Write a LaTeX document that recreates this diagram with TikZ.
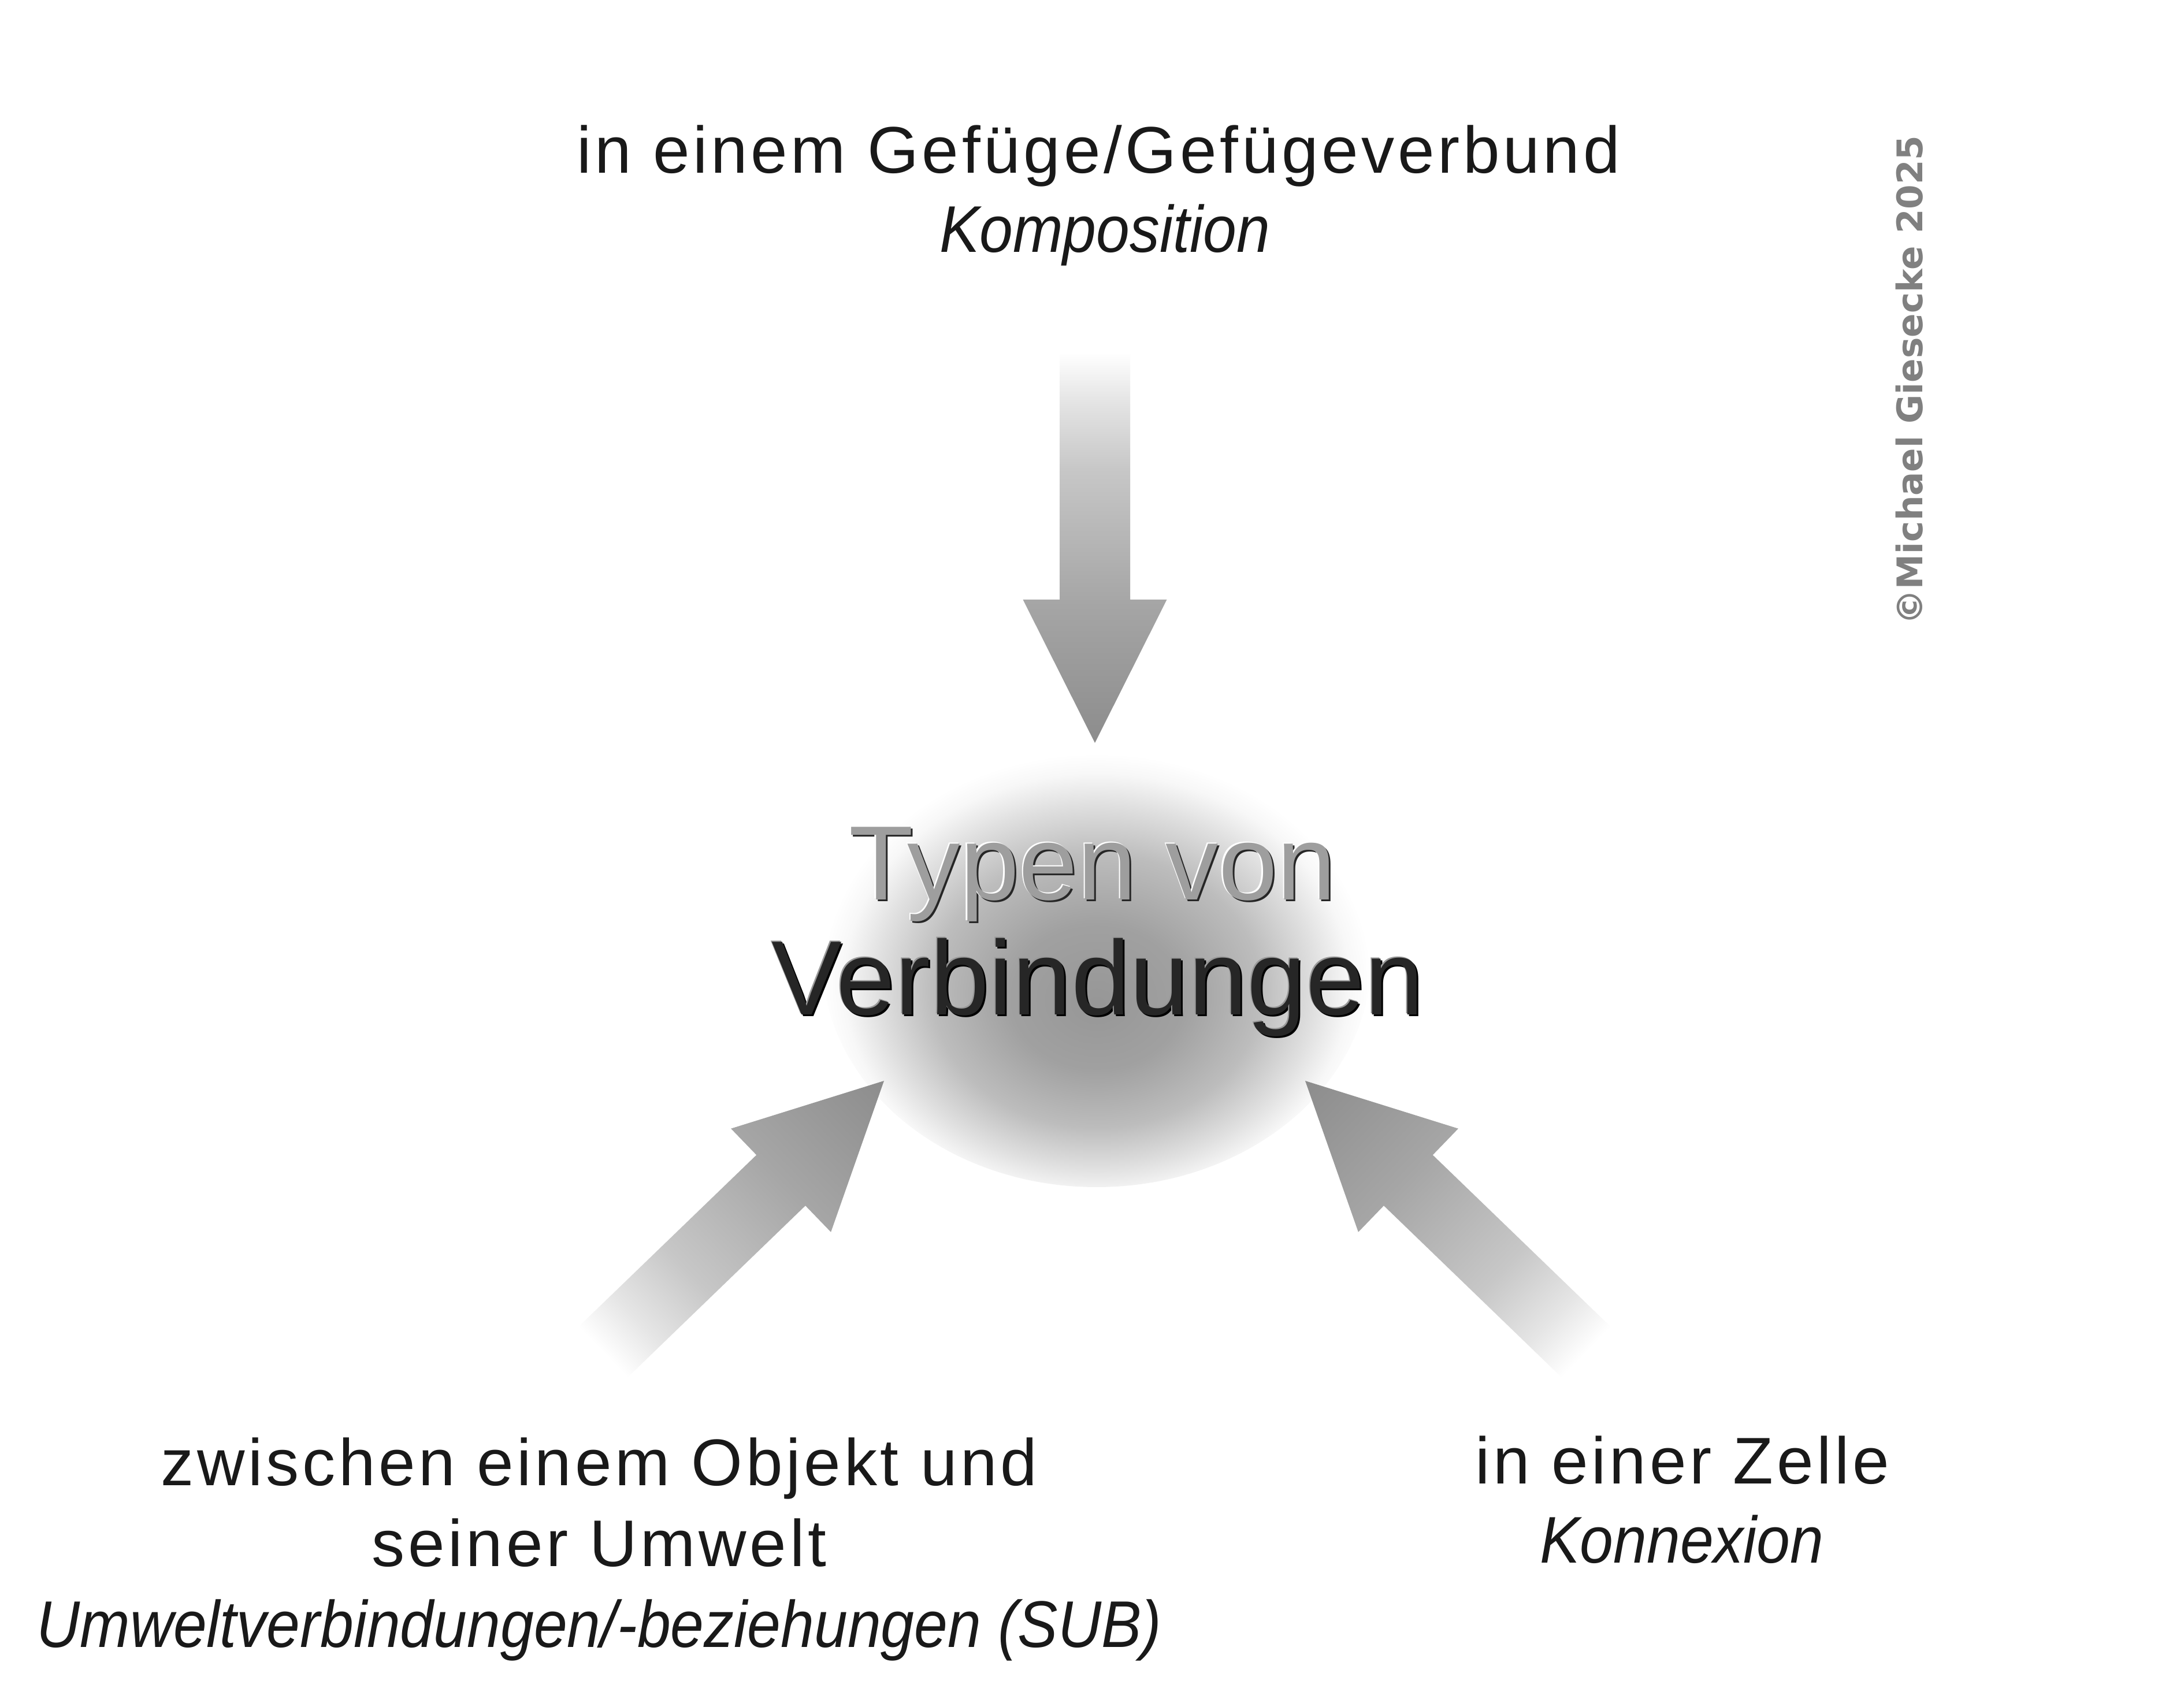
\documentclass[tikz,border=0pt]{standalone}
\usepackage{fontspec}
\setmainfont{Liberation Sans}
\newfontfamily\gesperrt{Liberation Sans}[LetterSpace=5]
\newfontfamily\schmal{Liberation Sans}[FakeStretch=0.91]
\newfontfamily\marke{DejaVu Sans}
\usetikzlibrary{shapes.geometric}
\pgfdeclareradialshading{glow}{\pgfpoint{0bp}{-5bp}}{color(0bp)=(black!41); color(8bp)=(black!37); color(15bp)=(black!26); color(20bp)=(black!12); color(23bp)=(black!3); color(25bp)=(white); color(50bp)=(white)}
\pgfdeclareverticalshading{arrowshade}{100bp}{color(0bp)=(black!45); color(25bp)=(black!45); color(43bp)=(black!35); color(60bp)=(black!22); color(69bp)=(black!10); color(75bp)=(white); color(100bp)=(white)}
\def\fatarrow(#1)(#2){\begin{scope}[transform canvas={shift={(#1)},rotate=#2}]
	\shade[shading=arrowshade] (0,0) -- (1.245,2.48) -- (0.61,2.48) -- (0.61,6.76) -- (-0.61,6.76) -- (-0.61,2.48) -- (-1.245,2.48) -- cycle;
\end{scope}}
\tikzset{
	plainline/.style={anchor=base, inner sep=0pt, text=black!90, font=\gesperrt\fontsize{32.5}{39}\selectfont},
	italicline/.style={anchor=base, inner sep=0pt, text=black!90, font=\schmal\itshape\fontsize{32.5}{39}\selectfont},
	titletext/.style={anchor=base, inner sep=0pt, font=\fontsize{52}{62}\selectfont}
}

\begin{document}
\begin{tikzpicture}
			%%%%% START %%%%%
			
			\useasboundingbox (0, 0) rectangle (37.8, 29.48);
			\fill[white] (0, 0) rectangle (37.8, 29.48);
			
			\node[shade, shading=glow, ellipse, inner sep=0pt, minimum width=9.5cm, minimum height=7.9cm] (core) at (18.98, 12.88) {};
			
			\coordinate (tiptop) at (18.95, 16.62);
			\coordinate (tipleft) at (15.30, 10.77);
			\coordinate (tipright) at (22.59, 10.77);
			
			\fatarrow(tiptop)(0);
			\fatarrow(tipleft)(134);
			\fatarrow(tipright)(-134);
			
			\node[titletext, text=black!85] (typenshadow) at (18.94, 13.87) {Typen von};
			\node[titletext, text=white] (typenlight) at (18.885, 13.925) {Typen von};
			\node[titletext, text=black!38] (typen) at (18.91, 13.90) {Typen von};
			
			\node[titletext, text=black] (verbshadow) at (19.03, 11.88) {Verbindungen};
			\node[titletext, text=black!40] (verblight) at (18.98, 11.93) {Verbindungen};
			\node[titletext, text=black!85] (verbindungen) at (19.0, 11.91) {Verbindungen};
			
			\node[plainline] (gefuege) at (19.01, 26.48) {in einem Gefüge/Gefügeverbund};
			\node[italicline] (komposition) at (19.12, 25.11) {Komposition};
			
			\node[plainline] (objekt) at (10.37, 3.76) {zwischen einem Objekt und};
			\node[plainline] (umwelt) at (10.37, 2.36) {seiner Umwelt};
			\node[italicline] (umweltsub) at (10.37, 0.96) {Umweltverbindungen/-beziehungen (SUB)};
			
			\node[plainline] (zelle) at (29.12, 3.79) {in einer Zelle};
			\node[italicline] (konnexion) at (29.11, 2.42) {Konnexion};
			
			\node[rotate=90, inner sep=0pt, text=black!50, font=\marke\bfseries\fontsize{17.4}{20}\selectfont] (copyright) at (33.05, 22.90) {©Michael Giesecke 2025};
			
			%%%%% END %%%%%
\end{tikzpicture}
\end{document}
